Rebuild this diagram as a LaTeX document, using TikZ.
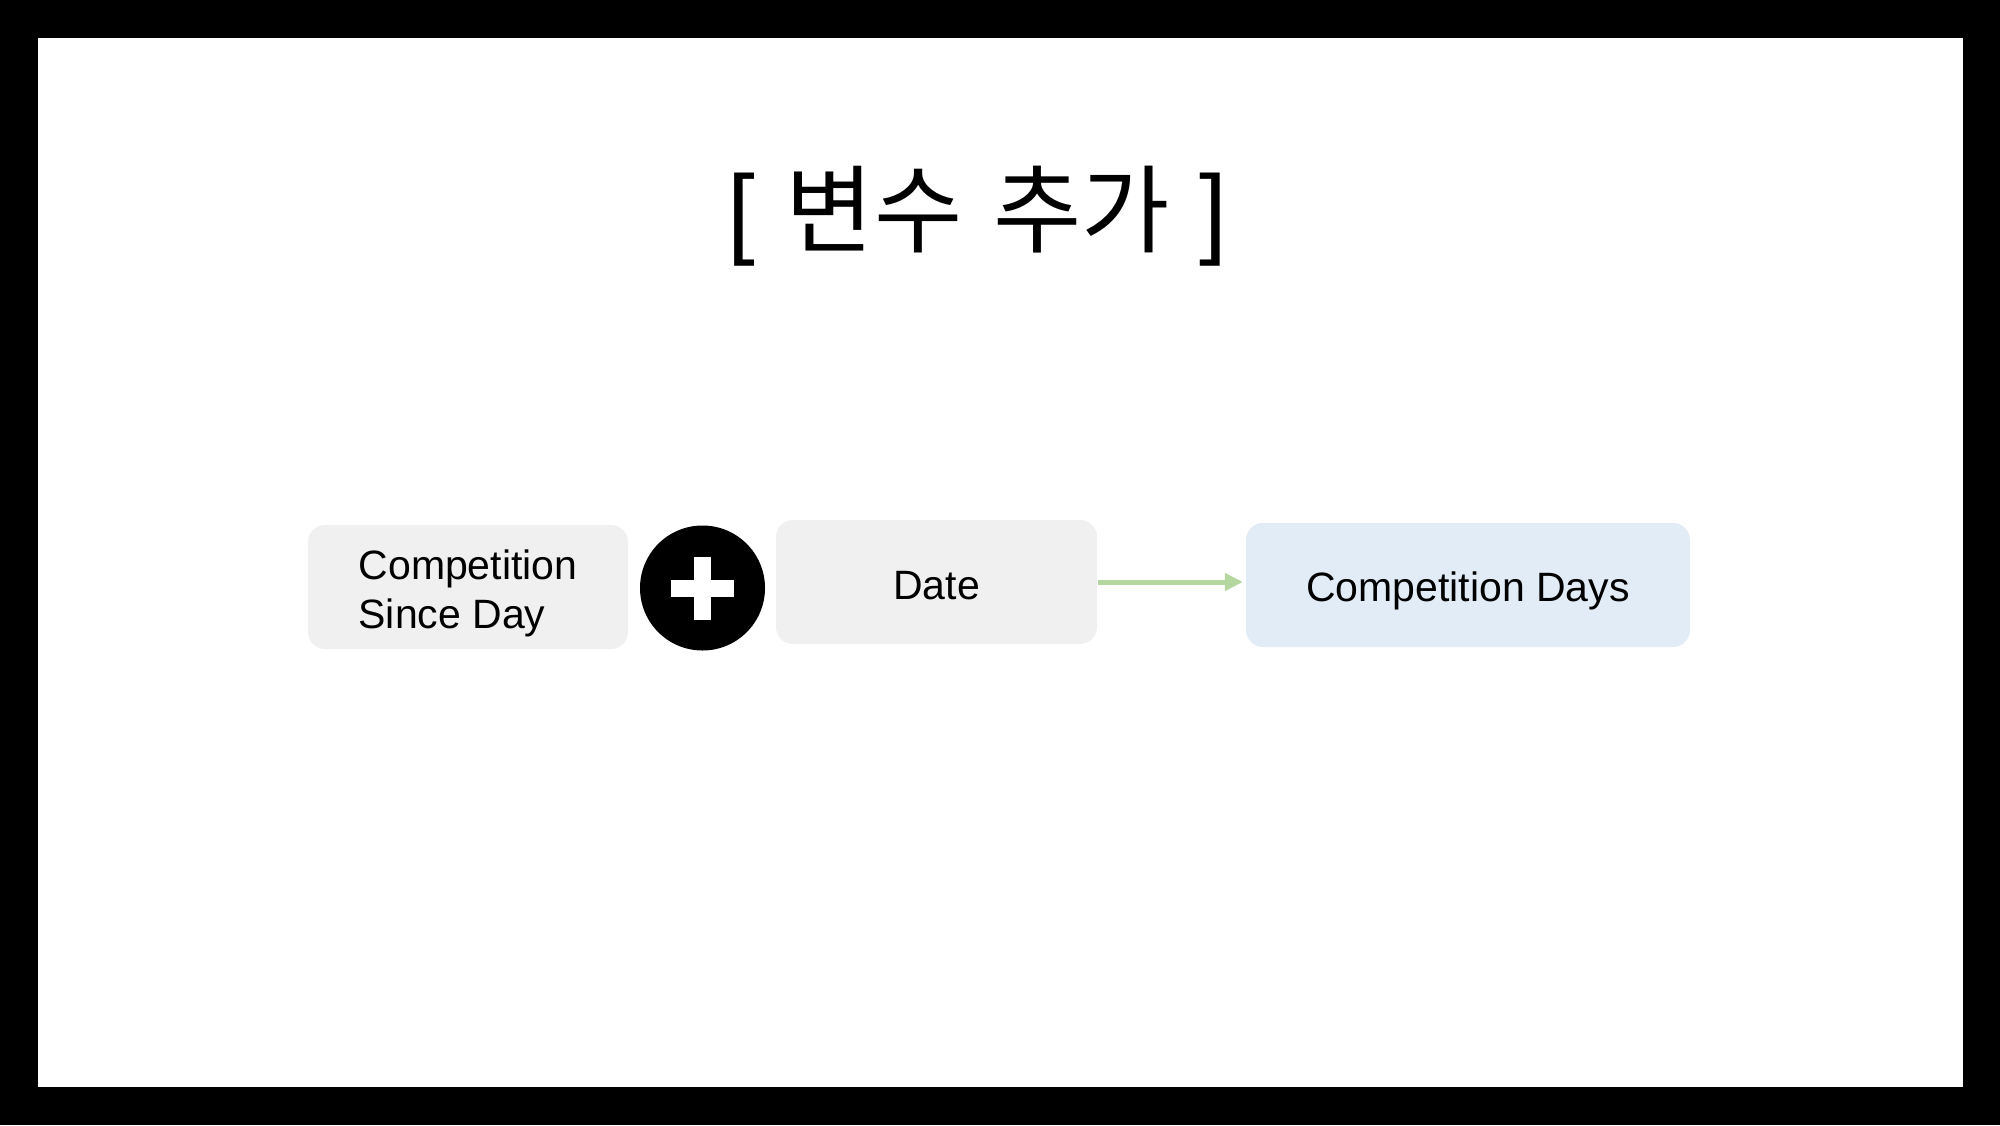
\documentclass[tikz,border=0pt]{standalone}
\usepackage{fontspec}
\setmainfont{Liberation Sans}
\newfontfamily\kr{Noto Sans CJK KR}
\usetikzlibrary{arrows.meta}
\definecolor{boxgray}{HTML}{F0F0F0}
\definecolor{boxblue}{HTML}{E2ECF6}
\definecolor{arrgreen}{HTML}{B4D79F}
\newcommand{\lowered}[2]{\raisebox{-#1}[\height][\depth]{#2}}
\tikzset{
  card/.style={rounded corners=17pt, fill=boxgray, draw=none, minimum height=124pt, inner sep=0pt,
    font=\fontsize{41}{49}\selectfont},
  bluecard/.style={card, fill=boxblue},
  flow/.style={draw=arrgreen, line width=5pt, -{Triangle[length=18pt,width=17pt]}}
}
\begin{document}
\begin{tikzpicture}[x=1pt,y=-1pt]
\fill[black] (0,0) rectangle (2000,1125);
\fill[white] (37.5,37.5) rectangle (1962.5,1087);
\useasboundingbox (0,0) rectangle (2000,1125);
\node[anchor=base west, inner sep=0pt] (title) at (727,245)
  {\fontsize{100}{110}\selectfont[\hspace{31pt}{\kr\fontsize{96}{110}\selectfont 변수\hspace{31pt}추가}\hspace{29pt}]};
\node[card, minimum width=320pt] (csd) at (468,587)
  {\lowered{7pt}{\begin{tabular}{@{}l@{}}Competition\\Since Day\end{tabular}}};
\node[circle, fill=black, minimum size=125pt, inner sep=0pt] (plus) at (702.5,588) {};
\fill[white] ([xshift=-31.5pt,yshift=-8.5pt]plus.center) rectangle ([xshift=31.5pt,yshift=8.5pt]plus.center);
\fill[white] ([xshift=-8.5pt,yshift=-31.5pt]plus.center) rectangle ([xshift=8.5pt,yshift=31.5pt]plus.center);
\node[card, minimum width=321pt] (date) at (936.5,582) {\lowered{4pt}{Date}};
\node[bluecard, minimum width=444pt] (cd) at (1468,585) {\lowered{6pt}{Competition Days}};
\draw[flow, shorten <=1pt, shorten >=3pt] (date.east) -- (date.east -| cd.west);
\end{tikzpicture}
\end{document}
